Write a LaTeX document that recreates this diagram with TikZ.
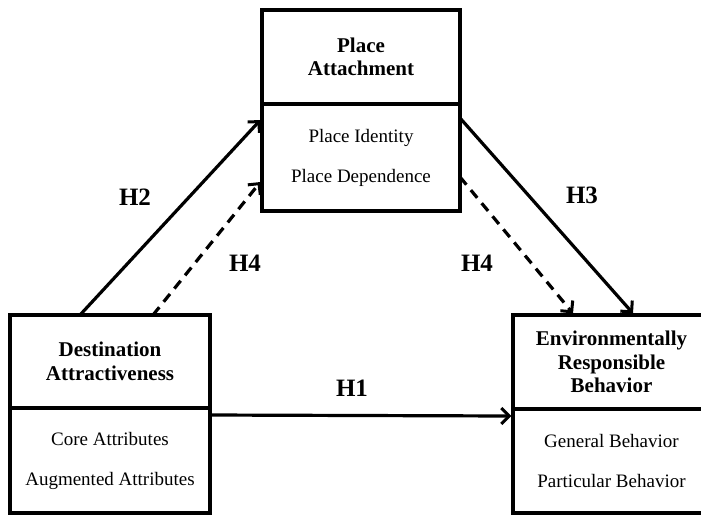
\documentclass[tikz,border=0pt]{standalone}
\usepackage{fontspec}
\setmainfont{Liberation Serif}
\usetikzlibrary{arrows.meta}

\begin{document}
\begin{tikzpicture}[x=1pt, y=-1pt,
                    titlebox/.style = {shape = rectangle,
                                       draw = black,
                                       line width = 3.2pt,
                                       inner sep = 0pt,
                                       outer sep = 0pt,
                                       anchor = north west,
                                       align = center,
                                       font = \fontsize{21}{23.5}\selectfont\bfseries},
                    itembox/.style = {titlebox,
                                      font = \fontsize{19}{40}\selectfont},
                    hlabel/.style = {font = \fontsize{25}{28}\selectfont\bfseries},
                    link/.style = {line width = 3.2pt,
                                   -{Straight Barb[length=8pt, width=16pt, line width=3pt]}},
                    hlink/.style = {link, dash pattern = on 10pt off 7pt}]
	\clip (0,0) rectangle (701,515);
	% place attachment
	\node[titlebox, minimum width = 198pt, minimum height = 94pt] (patitle) at (262,10) {Place\\Attachment};
	\node[itembox, minimum width = 198pt, minimum height = 107pt] (paitems) at (262,104) {Place Identity\\Place Dependence};
	% destination attractiveness
	\node[titlebox, minimum width = 200pt, minimum height = 93pt] (datitle) at (10,315) {Destination\\Attractiveness};
	\node[itembox, minimum width = 200pt, minimum height = 105pt] (daitems) at (10,408) {Core Attributes\\Augmented Attributes};
	% environmentally responsible behavior
	\node[titlebox, minimum width = 197pt, minimum height = 94pt] (erbtitle) at (513,315) {Environmentally\\Responsible\\Behavior};
	\node[itembox, minimum width = 197pt, minimum height = 104pt] (erbitems) at (513,409) {General Behavior\\Particular Behavior};

	\draw[link] ([xshift=70pt]datitle.north west) -- ([xshift=-1.6pt, yshift=-16pt]paitems.north west);
	\draw[hlink] ([xshift=143pt]datitle.north west) -- ([xshift=-1.6pt, yshift=-78pt]paitems.north west);
	\draw[link] ([yshift=-14pt]paitems.north east) -- ([xshift=120pt, yshift=1.6pt]erbtitle.north west);
	\draw[hlink] ([yshift=-73pt]paitems.north east) -- ([xshift=60pt, yshift=1.6pt]erbtitle.north west);
	\draw[link] ([yshift=-7pt]daitems.north east) -- ([xshift=-1.6pt, yshift=-7pt]erbitems.north west);

	\node[hlabel] (h2) at (135,197) {H2};
	\node[hlabel] (h4a) at (245,263) {H4};
	\node[hlabel] (h3) at (582,195) {H3};
	\node[hlabel] (h4b) at (477,263) {H4};
	\node[hlabel] (h1) at (352,388) {H1};
\end{tikzpicture}
\end{document}
